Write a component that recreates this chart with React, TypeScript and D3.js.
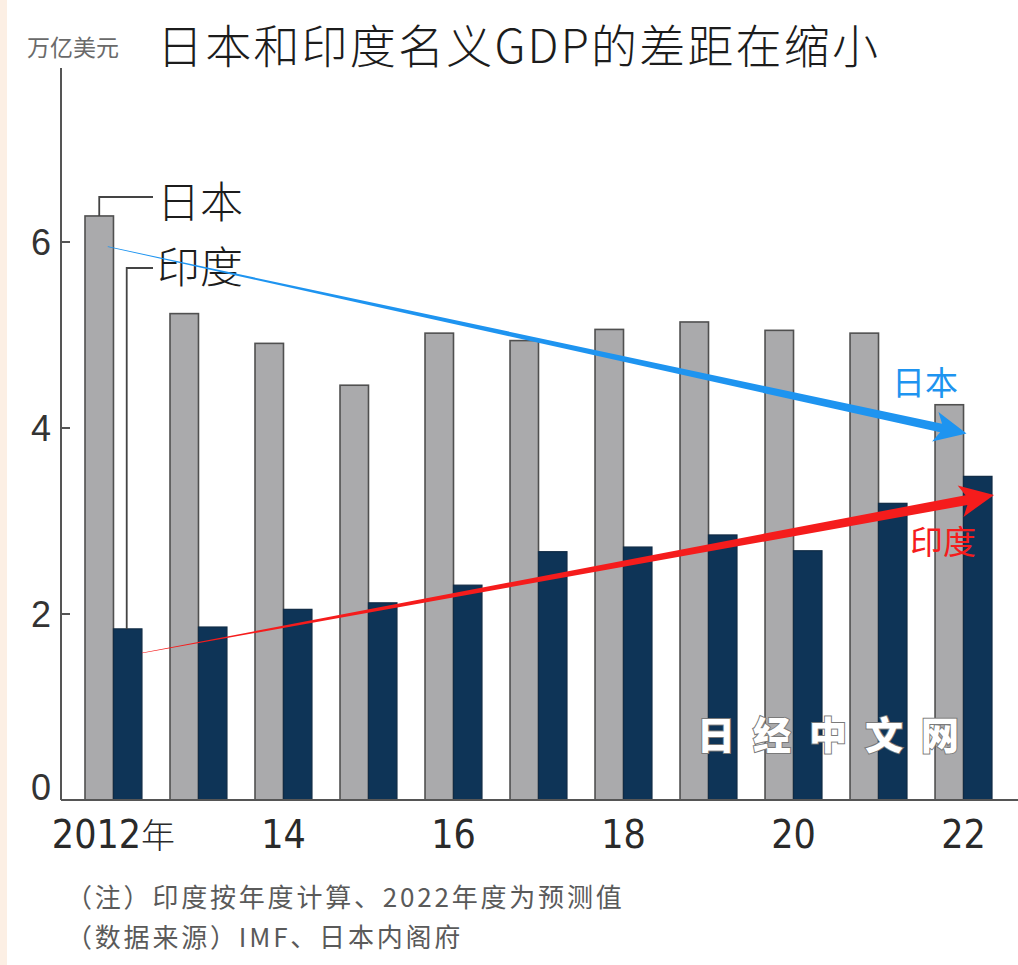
import React from "react";
import * as d3 from "d3";

const years = [2012, 2013, 2014, 2015, 2016, 2017, 2018, 2019, 2020, 2021, 2022];
const japan = [6.28, 5.23, 4.91, 4.46, 5.02, 4.94, 5.06, 5.14, 5.05, 5.02, 4.25];
const india = [1.84, 1.86, 2.05, 2.12, 2.31, 2.67, 2.72, 2.85, 2.68, 3.19, 3.48];
const yTicks = [0, 2, 4, 6];
const xTickYears = [2012, 2014, 2016, 2018, 2020, 2022];
const xTickLabels = ["2012年", "14", "16", "18", "20", "22"];
const seriesNames = ["日本", "印度"];
// trend arrows: [startYear, startValue, endYear, endValue]
const trendJapan = [2012, 5.95, 2022, 3.94];
const trendIndia = [2012, 1.58, 2022, 3.28];

const W = 1018;
const H = 965;

export default function App() {
  const x = d3.scaleBand<number>().domain(years).range([85, 992]).paddingInner(0.33).paddingOuter(0);
  const xs = d3.scaleBand<string>().domain(["jp", "in"]).range([0, x.bandwidth()]).padding(0);
  const y = d3.scaleLinear().domain([0, 6]).range([800, 242]);
  const bw = xs.bandwidth();

  const arrowPath = (x0: number, y0: number, x1: number, y1: number, w0: number, w1: number, headLen: number, headHalf: number) => {
    const dx = x1 - x0, dy = y1 - y0;
    const len = Math.hypot(dx, dy);
    const ux = dx / len, uy = dy / len;
    const nx = -uy, ny = ux;
    const bx = x1 - ux * headLen, by = y1 - uy * headLen;
    const p = d3.path();
    p.moveTo(x0 + nx * w0, y0 + ny * w0);
    p.lineTo(bx + nx * w1, by + ny * w1);
    p.lineTo(bx + nx * headHalf - ux * 6, by + ny * headHalf - uy * 6);
    p.lineTo(x1, y1);
    p.lineTo(bx - nx * headHalf - ux * 6, by - ny * headHalf - uy * 6);
    p.lineTo(bx - nx * w1, by - ny * w1);
    p.lineTo(x0 - nx * w0, y0 - ny * w0);
    p.closePath();
    return p.toString();
  };

  const jx0 = (x(trendJapan[0]) ?? 0) + (xs("jp") ?? 0) + bw * 0.8;
  const jx1 = (x(trendJapan[2]) ?? 0) + (xs("jp") ?? 0) + bw + 3;
  const ix0 = (x(trendIndia[0]) ?? 0) + (xs("in") ?? 0) + bw;
  const ix1 = (x(trendIndia[2]) ?? 0) + (xs("in") ?? 0) + bw - 8;

  const cjk = "'Noto Sans CJK SC', 'Noto Sans', sans-serif";

  return (
    <svg width={W} height={H} style={{ position: "absolute", left: 0, top: 0, display: "block", background: "#ffffff" }}>
      <rect x={0} y={0} width={W} height={H} fill="#ffffff" />
      <rect x={0} y={0} width={7} height={H} fill="#fcefe4" />

      {/* unit + title */}
      <text x={27} y={56} fontFamily={cjk} fontSize={23} fill="#6a6a6a">万亿美元</text>
      <text x={157} y={63} fontFamily={cjk} fontSize={46} fontWeight={300} letterSpacing={2.2} fill="#1c1c1c">日本和印度名义GDP的差距在缩小</text>

      {/* bars */}
      {years.map((yr, i) => (
        <g key={yr}>
          <rect x={(x(yr) ?? 0) + (xs("jp") ?? 0)} y={y(japan[i])} width={bw} height={y(0) - y(japan[i])}
            fill="#aaaaac" stroke="#505050" strokeWidth={1.6} />
          <rect x={(x(yr) ?? 0) + (xs("in") ?? 0)} y={y(india[i])} width={bw} height={y(0) - y(india[i])}
            fill="#0e3457" stroke="#102b45" strokeWidth={1.2} />
        </g>
      ))}

      {/* axes */}
      <line x1={61} x2={61} y1={68} y2={y(0)} stroke="#555" strokeWidth={2} />
      <line x1={61} x2={W} y1={y(0)} y2={y(0)} stroke="#555" strokeWidth={2} />
      {yTicks.map((t) => (
        <g key={t}>
          <line x1={61} x2={70} y1={y(t)} y2={y(t)} stroke="#555" strokeWidth={2} />
          <text x={41} y={t === 0 ? y(t) : y(t) + 13} textAnchor="middle" fontFamily="'Liberation Sans', sans-serif" fontSize={36} fill="#333">{t}</text>
        </g>
      ))}
      {xTickYears.map((yr, i) => (
        <text key={yr} x={(x(yr) ?? 0) + x.bandwidth() / 2} y={848} textAnchor="middle"
          fontFamily="'Liberation Sans Narrow', 'DejaVu Sans Condensed', sans-serif" fontSize={39} fill="#2a2a2a">
          {i === 0 ? (
            <>
              {xTickLabels[i].slice(0, 4)}
              <tspan fontFamily={cjk} fontSize={34} fontWeight={300}>{xTickLabels[i].slice(4)}</tspan>
            </>
          ) : xTickLabels[i]}
        </text>
      ))}

      {/* legend leaders */}
      <path d={`M${(x(2012) ?? 0) + (xs("jp") ?? 0) + bw / 2},${y(japan[0])} V197 H153`} fill="none" stroke="#444" strokeWidth={1.8} />
      <path d={`M${(x(2012) ?? 0) + (xs("in") ?? 0) + bw / 2 - 1},${y(india[0])} V268 H153`} fill="none" stroke="#444" strokeWidth={1.8} />
      <text x={157} y={218} fontFamily={cjk} fontSize={43} fontWeight={300} fill="#1c1c1c">{seriesNames[0]}</text>
      <text x={157} y={283} fontFamily={cjk} fontSize={43} fontWeight={300} fill="#1c1c1c">{seriesNames[1]}</text>

      {/* watermark */}
      <text x={697} y={749} fontFamily={cjk} fontSize={38} fontWeight={900} fill="#ffffff" stroke="#7a7a7a" strokeWidth={2}
        letterSpacing={18} style={{ paintOrder: "stroke" }}>日经中文网</text>

      {/* trend arrows */}
      <path d={arrowPath(jx0, y(trendJapan[1]), jx1, y(trendJapan[3]), 0.3, 4.4, 26, 15)} fill="#1e94f0" />
      <path d={arrowPath(ix0, y(trendIndia[1]), ix1 + 10, y(trendIndia[3]), 0.3, 5, 28, 16)} fill="#f51c1c" />
      <text x={892} y={395} fontFamily={cjk} fontSize={33} fill="#1e94f0">{seriesNames[0]}</text>
      <text x={910} y={554} fontFamily={cjk} fontSize={33} fill="#f51c1c">{seriesNames[1]}</text>

      {/* notes */}
      <text x={66} y={907} fontFamily={cjk} fontSize={26} letterSpacing={2.8} fill="#5a5a5a">（注）印度按年度计算、2022年度为预测值</text>
      <text x={66} y={947} fontFamily={cjk} fontSize={26} letterSpacing={2.8} fill="#5a5a5a">（数据来源）IMF、日本内阁府</text>
    </svg>
  );
}
